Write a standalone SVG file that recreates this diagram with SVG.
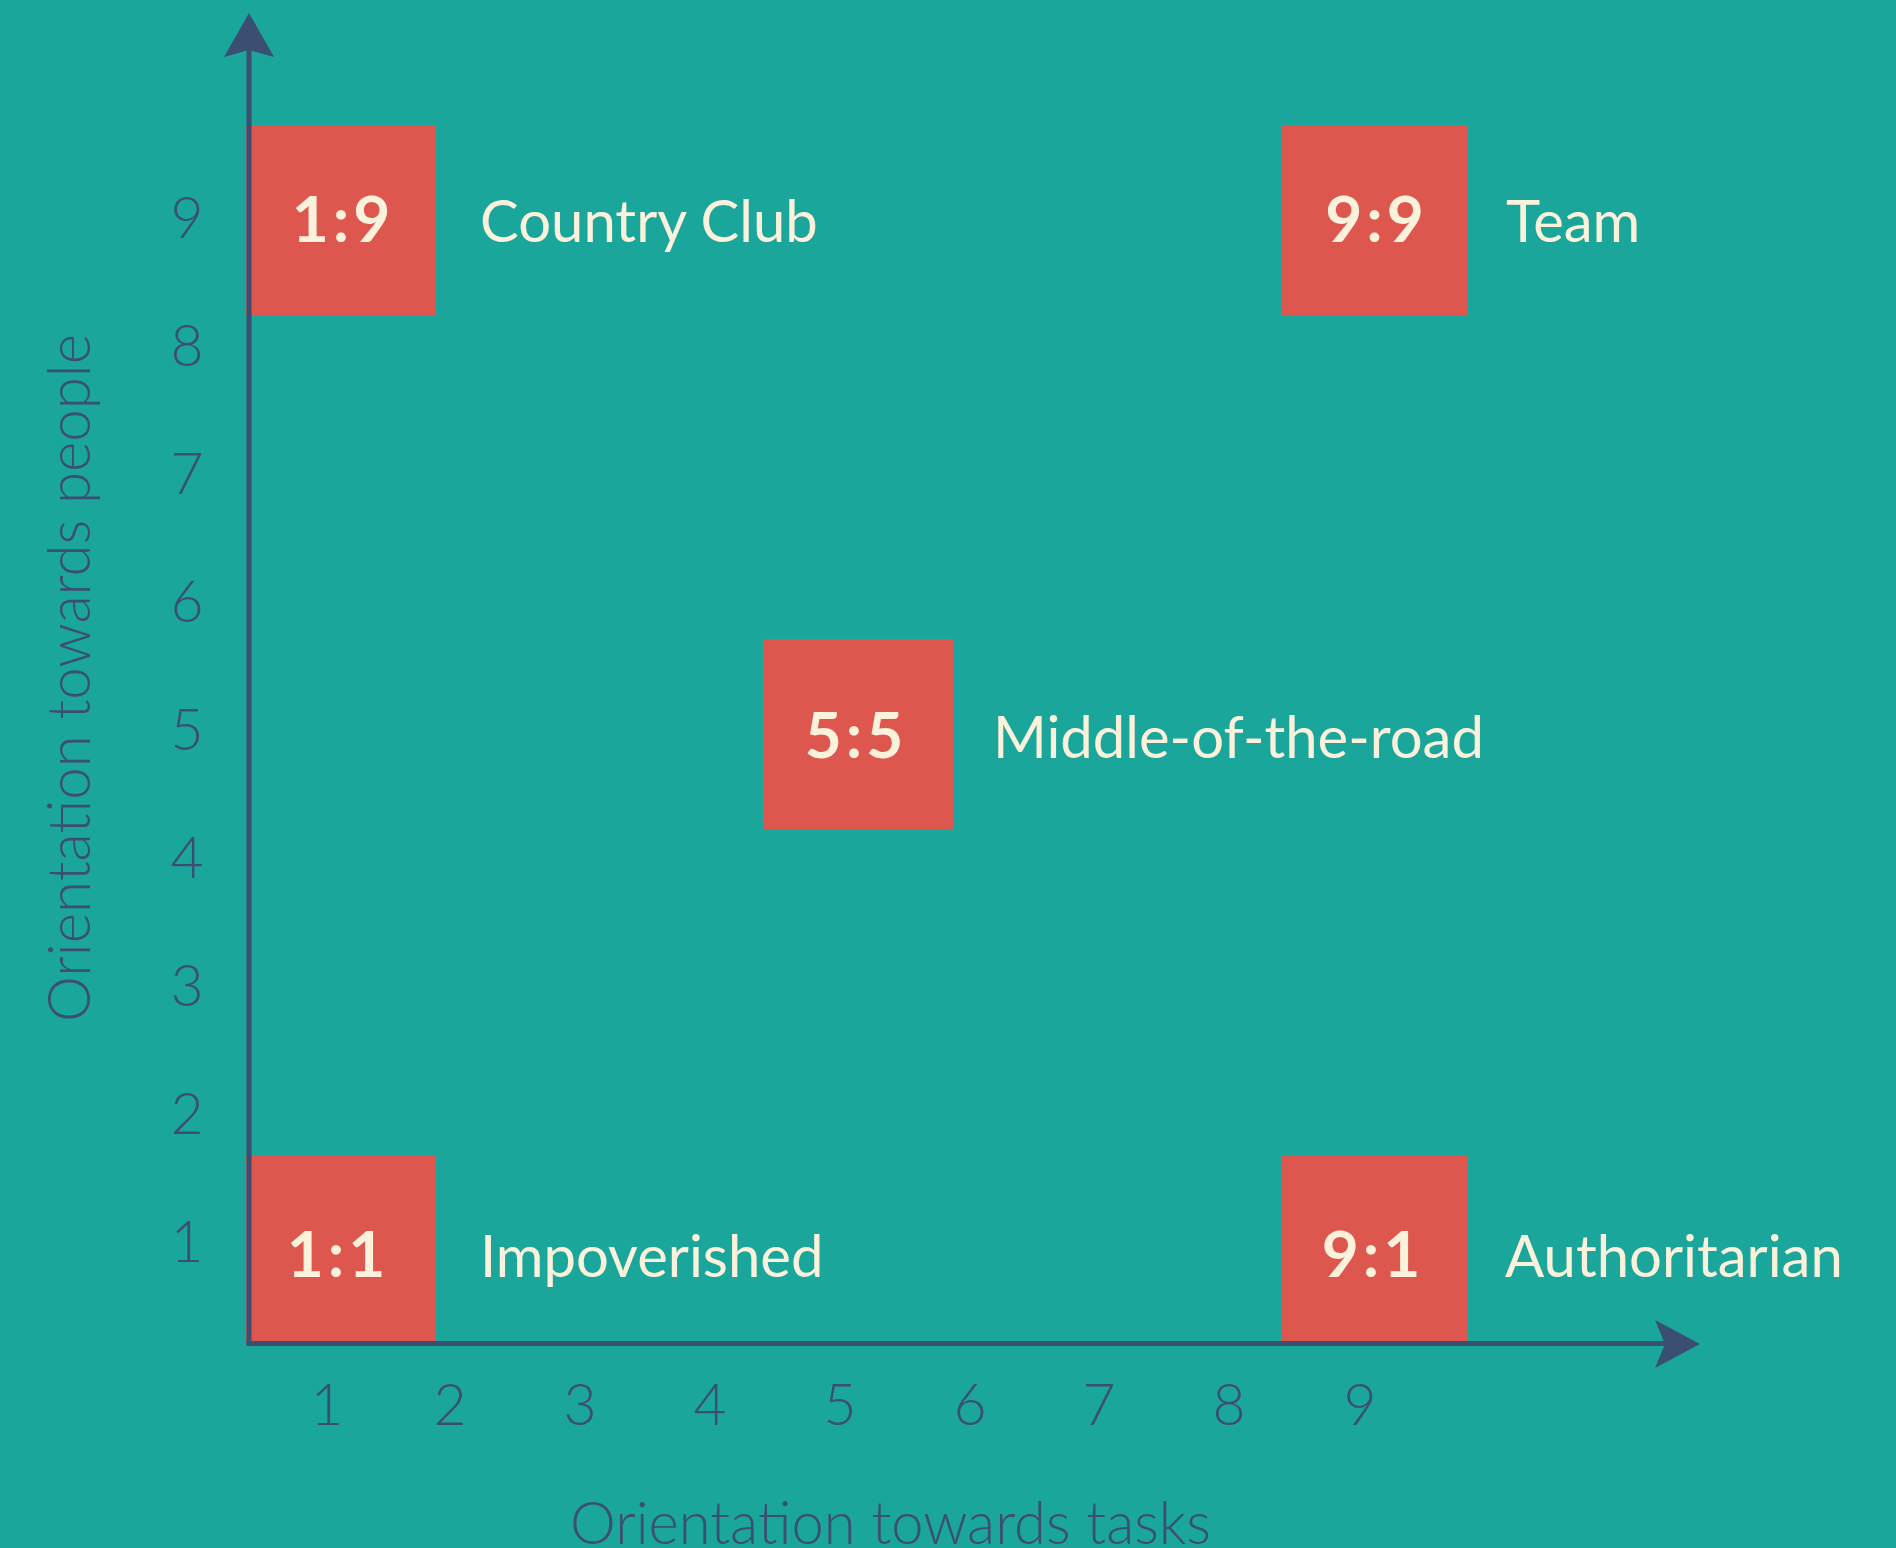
<svg xmlns="http://www.w3.org/2000/svg" width="1896" height="1548" viewBox="0 0 1896 1548">
  <style>
    .box { fill: #DD574E; }
    .ratio { font-family: Lato, "Liberation Sans", sans-serif; font-weight: 700; font-size: 64px; fill: #FCF2DC; text-anchor: middle; letter-spacing: 4px; }
    .label { font-family: Lato, "Liberation Sans", sans-serif; font-size: 58px; fill: #FCF2DC; }
    .tick { font-family: Lato, "Liberation Sans", sans-serif; font-weight: 300; font-size: 57px; fill: #3A4F71; text-anchor: middle; }
    .title { font-family: Lato, "Liberation Sans", sans-serif; font-weight: 300; font-size: 60px; fill: #3A4F71; }
    .axis { stroke: #3A4F71; stroke-width: 5; fill: none; }
    .head { fill: #3A4F71; }
  </style>

  <rect x="0" y="0" width="1896" height="1548" fill="#1BA69C"/>

  <!-- style cells -->
  <g id="cell-1-9">
    <rect class="box" x="246" y="125" width="190" height="190"/>
    <text class="ratio" x="343" y="242">1:9</text>
    <text class="label" x="480" y="242">Country Club</text>
  </g>
  <g id="cell-9-9">
    <rect class="box" x="1281" y="125" width="187" height="190"/>
    <text class="ratio" x="1376.5" y="242">9:9</text>
    <text class="label" x="1506" y="242">Team</text>
  </g>
  <g id="cell-5-5">
    <rect class="box" x="763" y="639" width="191" height="190"/>
    <text class="ratio" x="856" y="758">5:5</text>
    <text class="label" x="993" y="758">Middle-of-the-road</text>
  </g>
  <g id="cell-1-1">
    <rect class="box" x="246" y="1155" width="190" height="188"/>
    <text class="ratio" x="338" y="1277">1:1</text>
    <text class="label" x="480" y="1277">Impoverished</text>
  </g>
  <g id="cell-9-1">
    <rect class="box" x="1281" y="1155" width="187" height="188"/>
    <text class="ratio" x="1373" y="1277">9:1</text>
    <text class="label" x="1505" y="1277">Authoritarian</text>
  </g>

  <!-- axes -->
  <g id="connectors">
    <line class="axis" x1="249" y1="1343.5" x2="249" y2="45"/>
    <polygon class="head" points="249,13 274,57 249,50 224,57"/>
    <line class="axis" x1="246.5" y1="1343.5" x2="1670" y2="1343.5"/>
    <polygon class="head" points="1700,1344 1655,1320 1665,1344 1655,1368"/>
  </g>

  <!-- y-axis ticks -->
  <g id="y-ticks">
    <text class="tick" x="187" y="238">9</text>
    <text class="tick" x="187" y="366">8</text>
    <text class="tick" x="187" y="494">7</text>
    <text class="tick" x="187" y="622">6</text>
    <text class="tick" x="187" y="750">5</text>
    <text class="tick" x="187" y="878">4</text>
    <text class="tick" x="187" y="1006">3</text>
    <text class="tick" x="187" y="1134">2</text>
    <text class="tick" x="187" y="1262">1</text>
  </g>

  <!-- x-axis ticks -->
  <g id="x-ticks">
    <text class="tick" x="327" y="1425">1</text>
    <text class="tick" x="450" y="1425">2</text>
    <text class="tick" x="580" y="1425">3</text>
    <text class="tick" x="710" y="1425">4</text>
    <text class="tick" x="840" y="1425">5</text>
    <text class="tick" x="970" y="1425">6</text>
    <text class="tick" x="1099" y="1425">7</text>
    <text class="tick" x="1229" y="1425">8</text>
    <text class="tick" x="1360" y="1425">9</text>
  </g>

  <!-- axis titles -->
  <g id="axis-titles">
    <text class="title" x="570" y="1544" textLength="641" lengthAdjust="spacingAndGlyphs">Orientation towards tasks</text>
    <text class="title" transform="translate(90,1022) rotate(-90)" textLength="688" lengthAdjust="spacingAndGlyphs">Orientation towards people</text>
  </g>
</svg>
